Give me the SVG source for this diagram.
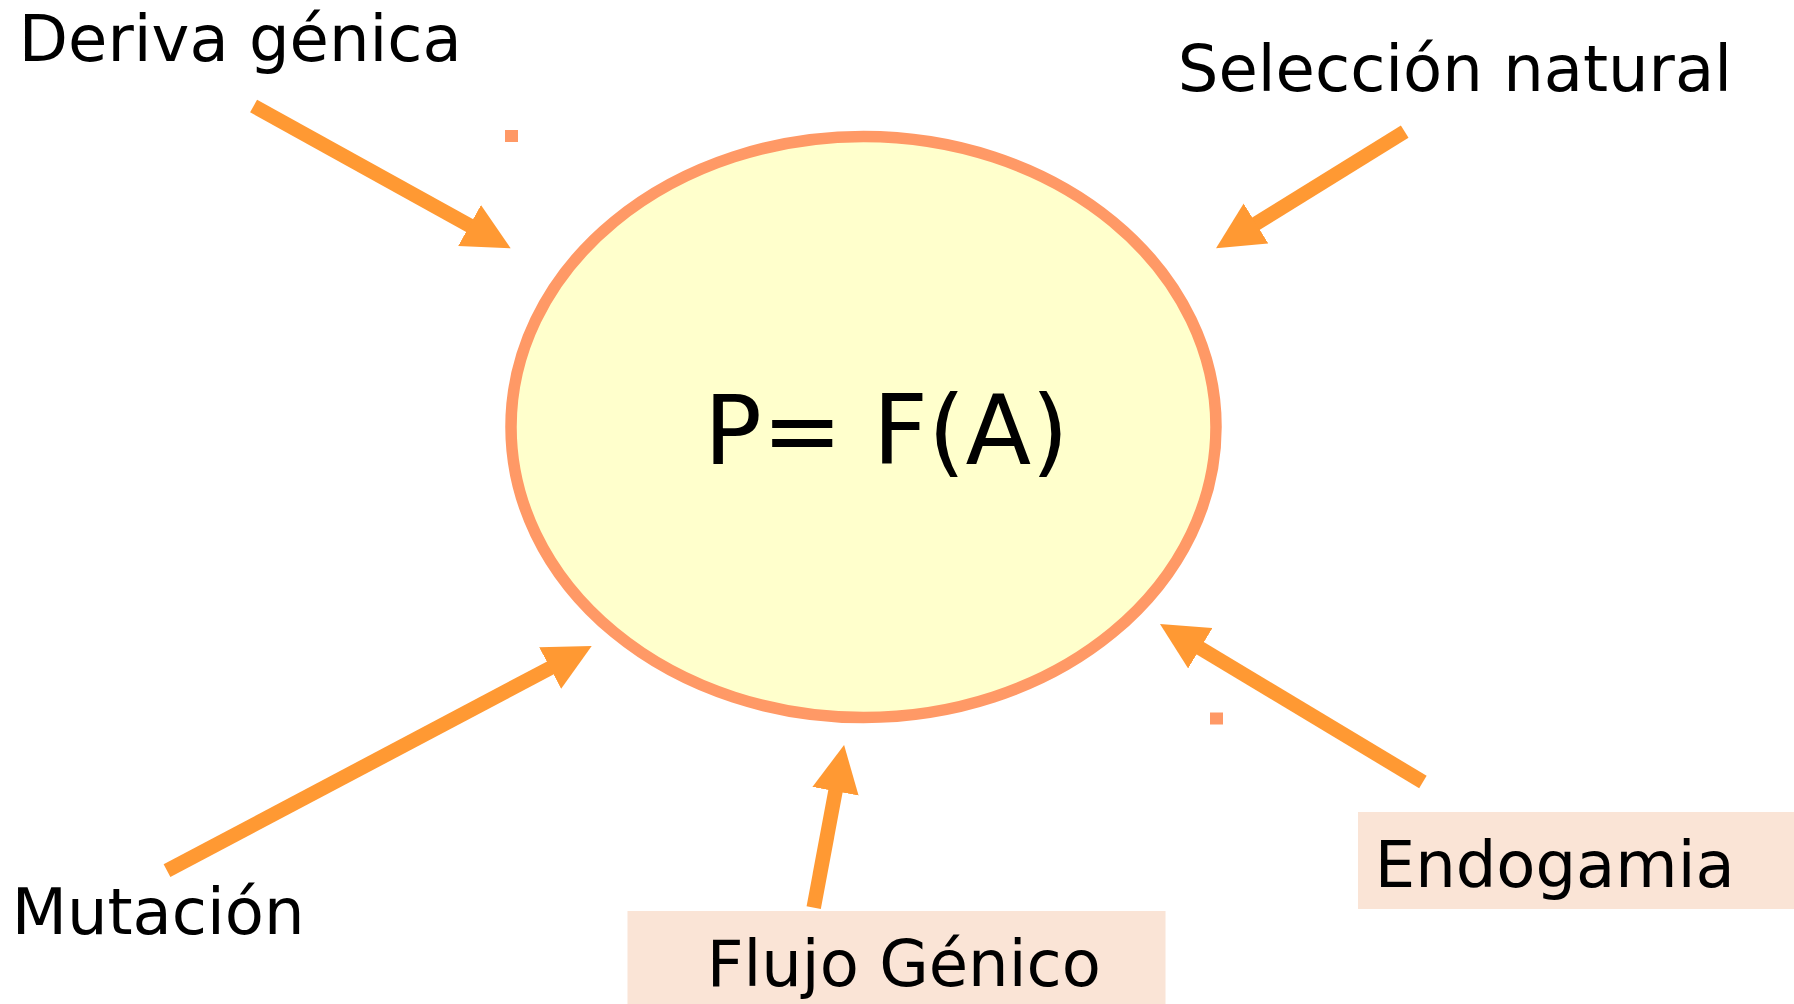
<svg xmlns="http://www.w3.org/2000/svg" width="1794" height="1004" viewBox="0 0 1794 1004">
  <style>
    .label { font-family: "DejaVu Sans", "Liberation Sans", sans-serif; font-size: 64px; fill: #000000; }
    .formula { font-family: "DejaVu Sans", "Liberation Sans", sans-serif; font-size: 96px; fill: #000000; }
    .box { fill: #fae4d6; stroke: none; }
    .arrow { stroke: #ff9933; stroke-width: 14.5; fill: none; stroke-linecap: butt; marker-end: url(#head); }
    .dot { fill: #ff9966; }
  </style>
  <defs>
    <marker id="head" markerUnits="userSpaceOnUse" viewBox="0 0 48 48" markerWidth="48" markerHeight="48" refX="10" refY="24" orient="auto">
      <path d="M0,0.5 L47,24 L0,47.5 Z" fill="#ff9933"/>
    </marker>
  </defs>

  <rect x="0" y="0" width="1794" height="1004" fill="#ffffff"/>

  <!-- central population node -->
  <g id="poblacion">
    <ellipse cx="863.5" cy="427" rx="352.5" ry="290.5" fill="#ffffcc" stroke="#ff9966" stroke-width="11.5"/>
    <text class="formula" x="704" y="464">P= F(A)</text>
  </g>

  <!-- stray marks -->
  <rect class="dot" x="505" y="130" width="13" height="12"/>
  <rect class="dot" x="1210" y="712.5" width="13" height="12"/>

  <!-- factors -->
  <g id="deriva">
    <text class="label" x="18.8" y="61">Deriva génica</text>
  </g>
  <g id="seleccion">
    <text class="label" x="1177.8" y="90.5">Selección natural</text>
  </g>
  <g id="mutacion">
    <text class="label" x="11.7" y="934">Mutación</text>
  </g>
  <g id="flujo">
    <rect class="box" x="627.5" y="911" width="538" height="93"/>
    <text class="label" x="706.7" y="985.7">Flujo Génico</text>
  </g>
  <g id="endogamia">
    <rect class="box" x="1358" y="812" width="436" height="97"/>
    <text class="label" x="1374.7" y="886.7">Endogamia</text>
  </g>

  <!-- connectors -->
  <g id="connectors">
    <line class="arrow" x1="253.6" y1="106" x2="478.3" y2="230.4"/>
    <line class="arrow" x1="1404.7" y1="131.7" x2="1247.5" y2="228.8"/>
    <line class="arrow" x1="167" y1="870.7" x2="559" y2="663.3"/>
    <line class="arrow" x1="813.7" y1="907.7" x2="837.3" y2="781.4"/>
    <line class="arrow" x1="1422.9" y1="782" x2="1191.7" y2="643.1"/>
  </g>
</svg>
